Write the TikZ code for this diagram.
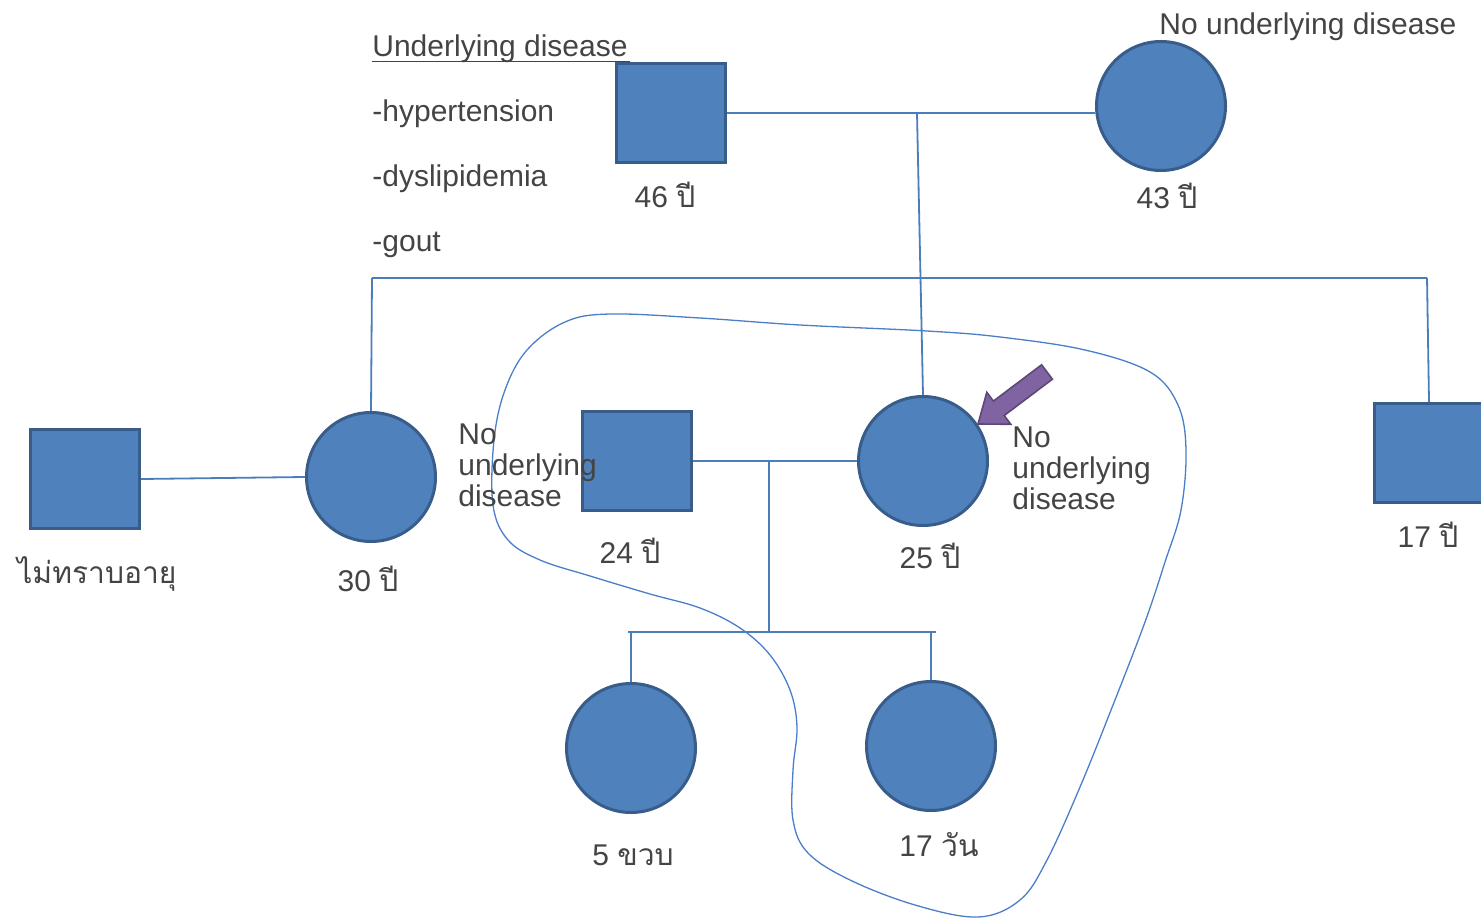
\documentclass[tikz,border=0pt]{standalone}
\usepackage{fontspec}
\setmainfont{Liberation Sans}
\newfontfamily\thaifont[Script=Thai]{Loma}
\definecolor{nodefill}{HTML}{4F81BD}
\definecolor{nodeedge}{HTML}{385D8A}
\definecolor{linkblue}{HTML}{4A7EBB}
\definecolor{curveblue}{HTML}{4A7EC8}
\definecolor{arrowfill}{HTML}{8064A2}
\definecolor{arrowedge}{HTML}{5C4776}
\definecolor{txt}{HTML}{444444}
\begin{document}
\begin{tikzpicture}[x=0.5pt,y=-0.5pt,
  male/.style={rectangle,draw=nodeedge,fill=nodefill,line width=1.5pt,minimum width=54.5pt,minimum height=49.5pt,inner sep=0pt},
  female/.style={circle,draw=nodeedge,fill=nodefill,line width=1.5pt,minimum size=64.5pt,inner sep=0pt},
  link/.style={draw=linkblue,line width=0.9pt},
  lbl/.style={text=txt,inner sep=0pt,font=\fontsize{15}{15.5}\selectfont},
  blockarrow/.style={fill=arrowfill,draw=arrowedge,line width=0.8pt,line join=miter},
  halo/.style={draw=curveblue,line width=0.65pt},
]
\useasboundingbox (0,0) rectangle (1481,919);

% enclosing freehand curve
\draw[halo] plot[smooth cycle,tension=0.6] coordinates {
 (610,314) (700,318) (800,325) (927,331) (1000,337) (1085,350) (1150,372)
 (1178,405) (1186,450) (1181,510) (1165,562) (1145,622) (1113,705) (1080,787)
 (1047,860) (1020,900) (978,917) (915,905) (850,880) (808,853) (793,820)
 (793,770) (797,727) (790,690) (770,655) (740,628) (700,608) (650,594)
 (590,576) (540,560) (508,540) (493,505) (494,440) (505,390) (527,350) (565,322)};

% individuals
\node[male]   (f46) at (671,113) {};
\node[female] (m43) at (1161,106) {};
\node[male]   (s0)  at (85,479) {};
\node[female] (c30) at (371,477) {};
\node[male]   (s24) at (637,461) {};
\node[female] (c25) at (923,461) {};
\node[male]   (s17) at (1429,453) {};
\node[female] (g5)  at (631,748) {};
\node[female] (g17) at (931,746) {};

% connectors
\coordinate (mar) at (917,113);
\coordinate (sibL) at (372,278);
\coordinate (sibR) at (1427,278);
\coordinate (mar2) at (769,461);
\coordinate (kid) at (769,632);
\coordinate (kL) at (628,632);
\coordinate (kR) at (936,632);

\draw[link] (f46.east) -- (f46.east -| m43.west);
\draw[link] (mar) -- (c25.north);
\draw[link] (sibL) -- (sibR);
\draw[link] (sibL) -- (c30.north);
\draw[link] (sibR) -- (s17.north);
\draw[link] (s0.east) -- (c30.west);
\draw[link] (s24.east) -- (c25.west);
\draw[link] (mar2) -- (kid);
\draw[link] (kL) -- (kR);
\draw[link] (g5.north |- kL) -- (g5.north);
\draw[link] (g17.north |- kR) -- (g17.north);

% proband arrow
\draw[blockarrow] (1041.6,364.8) -- (993.4,401.1) -- (986.8,392.3) -- (978,424)
  -- (1010.8,424.3) -- (1004.2,415.5) -- (1052.4,379.2) -- cycle;

% labels
\node[lbl,anchor=base west] (uh) at (372,57) {Underlying disease};
\draw[txt,line width=0.6pt] ([yshift=-2.2pt]uh.base west) -- ([yshift=-2.2pt,xshift=1pt]uh.base east);
\node[lbl,anchor=base west] (u1) at (372,122) {-hypertension};
\node[lbl,anchor=base west] (u2) at (372,187) {-dyslipidemia};
\node[lbl,anchor=base west] (u3) at (372,252) {-gout};
\node[lbl,anchor=base] (l46) at (665,208) {46 {\thaifont ปี}};
\node[lbl,anchor=base] (l43) at (1167,209) {43 {\thaifont ปี}};
\node[lbl,anchor=base west] (lnone) at (1159,35) {No underlying disease};
\node[lbl,anchor=base west] (l0) at (17,583) {\thaifont ไม่ทราบอายุ};
\node[lbl,anchor=base] (l30) at (368,591) {30 {\thaifont ปี}};
\node[lbl,anchor=north west,align=left] (n30) at (458,423) {No\\underlying\\disease};
\node[lbl,anchor=north west,align=left] (n25) at (1012,426) {No\\underlying\\disease};
\node[lbl,anchor=base] (l24) at (630,563) {24 {\thaifont ปี}};
\node[lbl,anchor=base] (l25) at (930,568) {25 {\thaifont ปี}};
\node[lbl,anchor=base] (l17) at (1428,547) {17 {\thaifont ปี}};
\node[lbl,anchor=base] (l5) at (633,865) {5 {\thaifont ขวบ}};
\node[lbl,anchor=base] (l17d) at (939,856) {17 {\thaifont วัน}};
\end{tikzpicture}
\end{document}
